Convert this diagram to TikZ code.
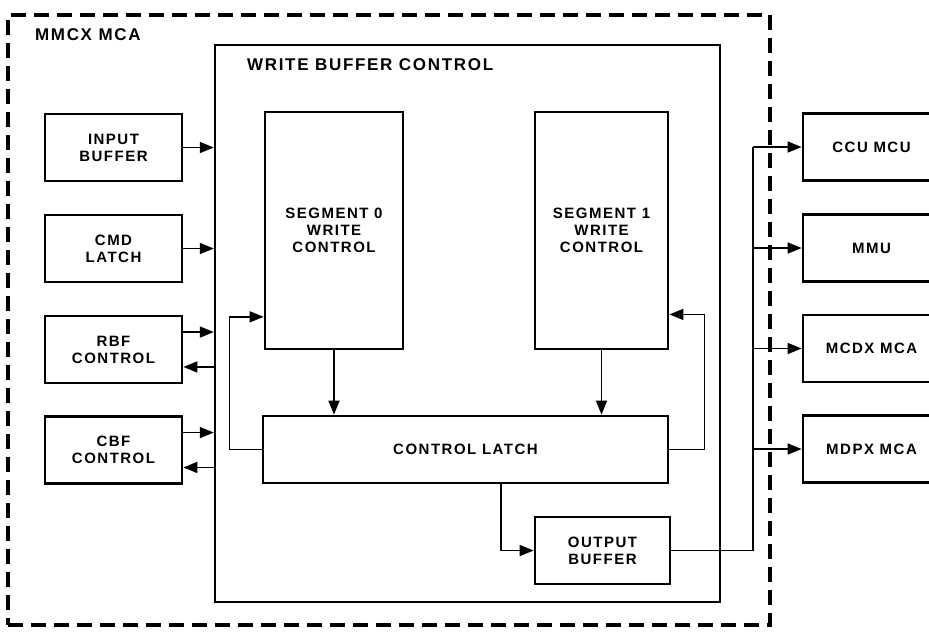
\documentclass[tikz,border=0pt]{standalone}
\usepackage{fontspec}
\newfontfamily\blockfont{Liberation Sans}[LetterSpace=10]
\usetikzlibrary{arrows.meta,calc}

\begin{document}
\begin{tikzpicture}[
  x=0.5pt, y=-0.5pt,
  every node/.style={font=\blockfont\bfseries\fontsize{7.5}{8.5}\selectfont},
  blk/.style={draw, line width=1.4pt, align=center, inner sep=0pt, minimum width=68.5pt, minimum height=33.5pt},
  seg/.style={blk, minimum width=69pt, minimum height=118.5pt},
  title/.style={anchor=west, font=\blockfont\bfseries\fontsize{8.5}{10}\selectfont},
  bus/.style={line width=0.8pt},
  arr/.style={bus, -{Triangle[length=7pt,width=5.5pt]}}
]
\useasboundingbox (0,0) rectangle (929,634);
\clip (0,0) rectangle (929,634);

% containers
\node[draw, line width=2pt, dash pattern=on 7.5pt off 4pt, minimum width=381pt, minimum height=305pt, inner sep=0pt] (mca) at (389,320) {};
\node[title] (mcatitle) at (28,35) {MMCX MCA};
\node[draw, line width=1.2pt, minimum width=252.5pt, minimum height=278.5pt, inner sep=0pt] (wbc) at (467.5,323.5) {};
\node[title] (wbctitle) at (240,65) {WRITE BUFFER CONTROL};

% left side blocks
\node[blk] (inbuf) at (113.5,147.5) {INPUT\\BUFFER};
\node[blk] (cmd) at (113.5,248.5) {CMD\\LATCH};
\node[blk] (rbf) at (113.5,349.5) {RBF\\CONTROL};
\node[blk] (cbf) at (113.5,450) {CBF\\CONTROL};

% write buffer control
\node[seg] (seg0) at (334,230.5) {SEGMENT 0\\WRITE\\CONTROL};
\node[seg, minimum width=66.5pt] (seg1) at (601.5,230.5) {SEGMENT 1\\WRITE\\CONTROL};
\node[blk, minimum width=202.5pt] (latch) at (465.5,449.5) {CONTROL LATCH};
\node[blk, minimum width=67.5pt] (outbuf) at (602.5,550.5) {OUTPUT\\BUFFER};

% right side blocks
\node[blk] (ccu) at (871.5,147) {CCU MCU};
\node[blk] (mmu) at (871.5,248) {MMU};
\node[blk] (mcdx) at (871.5,348.5) {MCDX MCA};
\node[blk] (mdpx) at (871.5,449) {MDPX MCA};

% inputs
\draw[arr] (inbuf.east) -- (inbuf.east -| wbc.west);
\draw[arr] (cmd.east) -- (cmd.east -| wbc.west);
\foreach \b in {rbf,cbf}{
  \coordinate (\b in) at ($(\b.north east)!0.25!(\b.south east)$);
  \coordinate (\b out) at ($(\b.north east)!0.75!(\b.south east)$);
  \draw[arr] (\b in) -- (\b in -| wbc.west);
  \draw[arr] (\b out -| wbc.west) -- (\b out);
}

% segments and latch
\draw[arr] (seg0.south) -- (seg0.south |- latch.north);
\draw[arr] (seg1.south) -- (seg1.south |- latch.north);
\coordinate (s0fb) at ($(seg0.south west)!0.14!(seg0.north west)$);
\coordinate (s1fb) at ($(seg1.south east)!0.15!(seg1.north east)$);
\draw[arr] (latch.west) -- ++(-32,0) |- (s0fb);
\draw[arr] (latch.east) -- ++(35,0) |- (s1fb);
\draw[arr] ([xshift=17.75pt]latch.south) |- (outbuf.west);

% output bus
\coordinate (bus) at (753,0);
\draw[bus] (outbuf.east) -| (bus |- ccu.west);
\foreach \n in {ccu,mmu,mcdx,mdpx}
  \draw[arr] (bus |- \n.west) -- (\n.west);
\end{tikzpicture}
\end{document}
